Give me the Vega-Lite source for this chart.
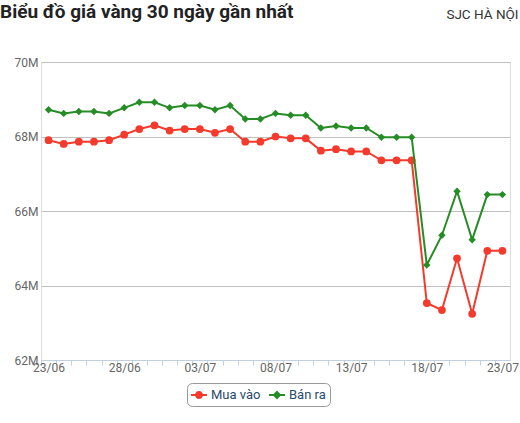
{
  "$schema": "https://vega.github.io/schema/vega-lite/v6.json",
  "width": 469,
  "height": 298,
  "autosize": {"type": "none"},
  "padding": {"left": 41, "top": 62, "right": 10, "bottom": 63},
  "background": "white",
  "title": {
    "text": "Biểu đồ giá vàng 30 ngày gần nhất",
    "anchor": "start",
    "frame": "group",
    "font": "Roboto",
    "fontSize": 19,
    "fontWeight": "bold",
    "color": "#222222",
    "dx": -41,
    "offset": 0,
    "dy": 15
  },
  "data": {
    "values": [
      {"ngay": "23/06", "loai": "Mua vào", "gia": 67.90}, {"ngay": "23/06", "loai": "Bán ra", "gia": 68.72},
      {"ngay": "24/06", "loai": "Mua vào", "gia": 67.80}, {"ngay": "24/06", "loai": "Bán ra", "gia": 68.62},
      {"ngay": "25/06", "loai": "Mua vào", "gia": 67.86}, {"ngay": "25/06", "loai": "Bán ra", "gia": 68.67},
      {"ngay": "26/06", "loai": "Mua vào", "gia": 67.86}, {"ngay": "26/06", "loai": "Bán ra", "gia": 68.67},
      {"ngay": "27/06", "loai": "Mua vào", "gia": 67.90}, {"ngay": "27/06", "loai": "Bán ra", "gia": 68.62},
      {"ngay": "28/06", "loai": "Mua vào", "gia": 68.05}, {"ngay": "28/06", "loai": "Bán ra", "gia": 68.77},
      {"ngay": "29/06", "loai": "Mua vào", "gia": 68.20}, {"ngay": "29/06", "loai": "Bán ra", "gia": 68.92},
      {"ngay": "30/06", "loai": "Mua vào", "gia": 68.30}, {"ngay": "30/06", "loai": "Bán ra", "gia": 68.92},
      {"ngay": "01/07", "loai": "Mua vào", "gia": 68.16}, {"ngay": "01/07", "loai": "Bán ra", "gia": 68.77},
      {"ngay": "02/07", "loai": "Mua vào", "gia": 68.20}, {"ngay": "02/07", "loai": "Bán ra", "gia": 68.83},
      {"ngay": "03/07", "loai": "Mua vào", "gia": 68.20}, {"ngay": "03/07", "loai": "Bán ra", "gia": 68.83},
      {"ngay": "04/07", "loai": "Mua vào", "gia": 68.10}, {"ngay": "04/07", "loai": "Bán ra", "gia": 68.72},
      {"ngay": "05/07", "loai": "Mua vào", "gia": 68.20}, {"ngay": "05/07", "loai": "Bán ra", "gia": 68.83},
      {"ngay": "06/07", "loai": "Mua vào", "gia": 67.86}, {"ngay": "06/07", "loai": "Bán ra", "gia": 68.47},
      {"ngay": "07/07", "loai": "Mua vào", "gia": 67.86}, {"ngay": "07/07", "loai": "Bán ra", "gia": 68.47},
      {"ngay": "08/07", "loai": "Mua vào", "gia": 68.00}, {"ngay": "08/07", "loai": "Bán ra", "gia": 68.62},
      {"ngay": "09/07", "loai": "Mua vào", "gia": 67.95}, {"ngay": "09/07", "loai": "Bán ra", "gia": 68.57},
      {"ngay": "10/07", "loai": "Mua vào", "gia": 67.95}, {"ngay": "10/07", "loai": "Bán ra", "gia": 68.57},
      {"ngay": "11/07", "loai": "Mua vào", "gia": 67.62}, {"ngay": "11/07", "loai": "Bán ra", "gia": 68.23},
      {"ngay": "12/07", "loai": "Mua vào", "gia": 67.66}, {"ngay": "12/07", "loai": "Bán ra", "gia": 68.28},
      {"ngay": "13/07", "loai": "Mua vào", "gia": 67.60}, {"ngay": "13/07", "loai": "Bán ra", "gia": 68.23},
      {"ngay": "14/07", "loai": "Mua vào", "gia": 67.60}, {"ngay": "14/07", "loai": "Bán ra", "gia": 68.23},
      {"ngay": "15/07", "loai": "Mua vào", "gia": 67.36}, {"ngay": "15/07", "loai": "Bán ra", "gia": 67.98},
      {"ngay": "16/07", "loai": "Mua vào", "gia": 67.36}, {"ngay": "16/07", "loai": "Bán ra", "gia": 67.98},
      {"ngay": "17/07", "loai": "Mua vào", "gia": 67.36}, {"ngay": "17/07", "loai": "Bán ra", "gia": 67.98},
      {"ngay": "18/07", "loai": "Mua vào", "gia": 63.53}, {"ngay": "18/07", "loai": "Bán ra", "gia": 64.55},
      {"ngay": "19/07", "loai": "Mua vào", "gia": 63.34}, {"ngay": "19/07", "loai": "Bán ra", "gia": 65.35},
      {"ngay": "20/07", "loai": "Mua vào", "gia": 64.73}, {"ngay": "20/07", "loai": "Bán ra", "gia": 66.53},
      {"ngay": "21/07", "loai": "Mua vào", "gia": 63.24}, {"ngay": "21/07", "loai": "Bán ra", "gia": 65.23},
      {"ngay": "22/07", "loai": "Mua vào", "gia": 64.93}, {"ngay": "22/07", "loai": "Bán ra", "gia": 66.44},
      {"ngay": "23/07", "loai": "Mua vào", "gia": 64.93}, {"ngay": "23/07", "loai": "Bán ra", "gia": 66.44}
    ]
  },
  "encoding": {
    "x": {
      "field": "ngay",
      "type": "ordinal",
      "sort": null,
      "scale": {"type": "point", "padding": 0.5},
      "axis": {
        "title": null,
        "labelAngle": 0,
        "labelExpr": "indexof(['23/06','28/06','03/07','08/07','13/07','18/07','23/07'], datum.value) >= 0 ? datum.value : ''",
        "labelOverlap": false,
        "labelFont": "Roboto",
        "labelFontSize": 12,
        "labelColor": "#666666",
        "labelPadding": -3,
        "tickOffset": -7.565,
        "labelOffset": 7.565,
        "tickSize": 5,
        "tickColor": "#C0D0E0",
        "domainColor": "#C0D0E0",
        "grid": false
      }
    },
    "y": {
      "field": "gia",
      "type": "quantitative",
      "scale": {"domain": [62, 70], "nice": false, "zero": false},
      "axis": {
        "values": [62, 64, 66, 68, 70],
        "labelExpr": "datum.value + 'M'",
        "labelFont": "Roboto",
        "labelFontSize": 12,
        "labelColor": "#666666",
        "labelPadding": 3,
        "tickSize": 0,
        "domain": false,
        "grid": true,
        "gridColor": "#C0C0C0",
        "title": "SJC HÀ NỘI",
        "titleAngle": 0,
        "titleAlign": "right",
        "titleBaseline": "alphabetic",
        "titleX": 477,
        "titleY": -44,
        "titleFont": "Roboto",
        "titleFontSize": 13.5,
        "titleFontWeight": "normal",
        "titleColor": "#333333"
      }
    }
  },
  "layer": [
    {
      "transform": [{"filter": "datum.loai == 'Mua vào'"}],
      "mark": {"type": "line", "strokeWidth": 2, "color": "#f33a2c"},
      "encoding": {}
    },
    {
      "transform": [{"filter": "datum.loai == 'Mua vào'"}],
      "mark": {"type": "point", "shape": "circle", "filled": true, "size": 60, "opacity": 1, "color": "#f33a2c"},
      "encoding": {}
    },
    {
      "transform": [{"filter": "datum.loai == 'Bán ra'"}],
      "mark": {"type": "line", "strokeWidth": 2, "color": "#268c26"},
      "encoding": {}
    },
    {
      "transform": [{"filter": "datum.loai == 'Bán ra'"}],
      "mark": {"type": "point", "shape": "diamond", "filled": true, "size": 55, "opacity": 1, "color": "#268c26"},
      "encoding": {}
    },
    {
      "mark": {"type": "point", "filled": true, "opacity": 0},
      "encoding": {
        "color": {
          "field": "loai",
          "type": "nominal",
          "scale": {"domain": ["Mua vào", "Bán ra"], "range": ["#f33a2c", "#268c26"]},
          "legend": {
            "title": null,
            "orient": "none",
            "legendX": 146,
            "legendY": 321,
            "direction": "horizontal",
            "symbolOpacity": 1,
            "symbolSize": 256,
            "symbolStrokeWidth": 0,
            "labelFont": "Roboto",
            "labelFontSize": 13,
            "labelColor": "#274b6d",
            "strokeColor": "#999999",
            "cornerRadius": 5,
            "padding": 4,
            "columnPadding": 8
          }
        },
        "shape": {
          "field": "loai",
          "type": "nominal",
          "scale": {
            "domain": ["Mua vào", "Bán ra"],
            "range": [
              "M-1,-0.125H1V0.125H-1Z M0.5,0A0.5,0.5,0,1,1,-0.5,0A0.5,0.5,0,1,1,0.5,0Z",
              "M-1,-0.125H1V0.125H-1Z M0,-0.55L0.55,0L0,0.55L-0.55,0Z"
            ]
          },
          "legend": {
            "title": null,
            "orient": "none",
            "legendX": 146,
            "legendY": 321,
            "direction": "horizontal",
            "symbolOpacity": 1,
            "symbolSize": 256,
            "symbolStrokeWidth": 0,
            "labelFont": "Roboto",
            "labelFontSize": 13,
            "labelColor": "#274b6d",
            "strokeColor": "#999999",
            "cornerRadius": 5,
            "padding": 4,
            "columnPadding": 8
          }
        }
      }
    }
  ]
}
